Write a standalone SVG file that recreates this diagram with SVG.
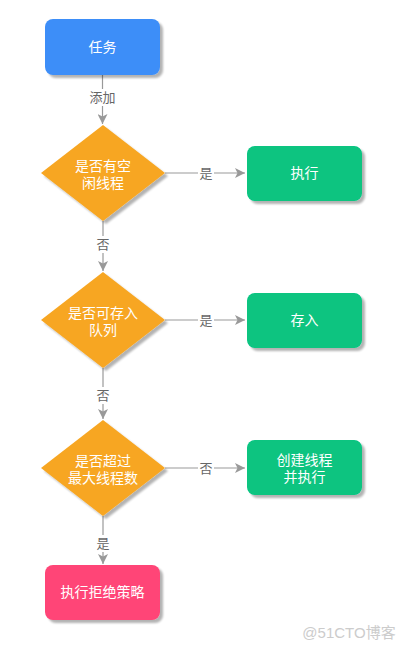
<svg xmlns="http://www.w3.org/2000/svg" width="407" height="650" viewBox="0 0 407 650">
<defs>
<marker id="arr" viewBox="0 0 10 10" refX="10" refY="5" markerWidth="10" markerHeight="10" markerUnits="userSpaceOnUse" orient="auto">
<path d="M0,0 L10,5 L0,10 L2.5,5 Z" fill="#999"/>
</marker>
<filter id="sh" x="-20%" y="-20%" width="140%" height="140%">
<feGaussianBlur in="SourceAlpha" stdDeviation="0.8"/>
<feOffset dx="3" dy="3" result="b"/>
<feComponentTransfer><feFuncA type="linear" slope="0.3"/></feComponentTransfer>
<feMerge><feMergeNode/><feMergeNode in="SourceGraphic"/></feMerge>
</filter>
</defs>
<style>
.t{font-family:"Noto Sans CJK SC","Liberation Sans",sans-serif;font-size:14px;fill:#fff;text-anchor:middle}
.l{font-family:"Noto Sans CJK SC","Liberation Sans",sans-serif;font-size:13px;fill:#666;text-anchor:middle}
.e{stroke:#999;stroke-width:1.2;fill:none;marker-end:url(#arr)}
.lb{fill:#fff}
</style>
<rect width="407" height="650" fill="#fff"/>
<g id="connectors">
<path class="e" d="M102.5,75 L102.5,124"/>
<rect class="lb" x="87" y="89" width="31" height="17"/>
<text class="l" x="102.5" y="102">添加</text>
<path class="e" d="M165,173 L245,173"/>
<rect class="lb" x="198" y="165" width="16" height="17"/>
<text class="l" x="206" y="178">是</text>
<path class="e" d="M103,221 L103,271"/>
<rect class="lb" x="95" y="236" width="16" height="17"/>
<text class="l" x="103" y="249">否</text>
<path class="e" d="M165,320 L245,320"/>
<rect class="lb" x="198" y="312" width="16" height="17"/>
<text class="l" x="206" y="325">是</text>
<path class="e" d="M103,368 L103,419"/>
<rect class="lb" x="95" y="387" width="16" height="17"/>
<text class="l" x="103" y="400">否</text>
<path class="e" d="M165,468 L245,468"/>
<rect class="lb" x="198" y="460" width="16" height="17"/>
<text class="l" x="206" y="473">否</text>
<path class="e" d="M103,516 L103,564"/>
<rect class="lb" x="95" y="535" width="16" height="17"/>
<text class="l" x="103" y="548">是</text>
</g>
<g id="task">
<rect x="45" y="19" width="115" height="56" rx="8" fill="#3D8EF8" filter="url(#sh)"/>
<text class="t" x="102.5" y="52">任务</text>
</g>
<g id="d1">
<path d="M103,125 L165,173 L103,221 L41,173 Z" fill="#F7A623" filter="url(#sh)"/>
<text class="t" x="103" y="171">是否有空<tspan x="103" dy="17">闲线程</tspan></text>
</g>
<g id="exec">
<rect x="247" y="146" width="115" height="55" rx="8" fill="#07C480" filter="url(#sh)"/>
<text class="t" x="304.5" y="178">执行</text>
</g>
<g id="d2">
<path d="M103,272 L165,320 L103,368 L41,320 Z" fill="#F7A623" filter="url(#sh)"/>
<text class="t" x="103" y="318">是否可存入<tspan x="103" dy="17">队列</tspan></text>
</g>
<g id="store">
<rect x="247" y="293" width="115" height="55" rx="8" fill="#07C480" filter="url(#sh)"/>
<text class="t" x="304.5" y="325">存入</text>
</g>
<g id="d3">
<path d="M103,420 L165,468 L103,516 L41,468 Z" fill="#F7A623" filter="url(#sh)"/>
<text class="t" x="103" y="466">是否超过<tspan x="103" dy="17">最大线程数</tspan></text>
</g>
<g id="create">
<rect x="247" y="440" width="115" height="55" rx="8" fill="#07C480" filter="url(#sh)"/>
<text class="t" x="304.5" y="465">创建线程<tspan x="304.5" dy="17">并执行</tspan></text>
</g>
<g id="reject">
<rect x="45" y="565" width="115" height="55" rx="8" fill="#FF4577" filter="url(#sh)"/>
<text class="t" x="102.5" y="597">执行拒绝策略</text>
</g>
<text x="349" y="638" style="font-family:'Liberation Sans','Noto Sans CJK SC',sans-serif;font-size:15px;fill:#ccc;text-anchor:middle">@51CTO博客</text>
</svg>
